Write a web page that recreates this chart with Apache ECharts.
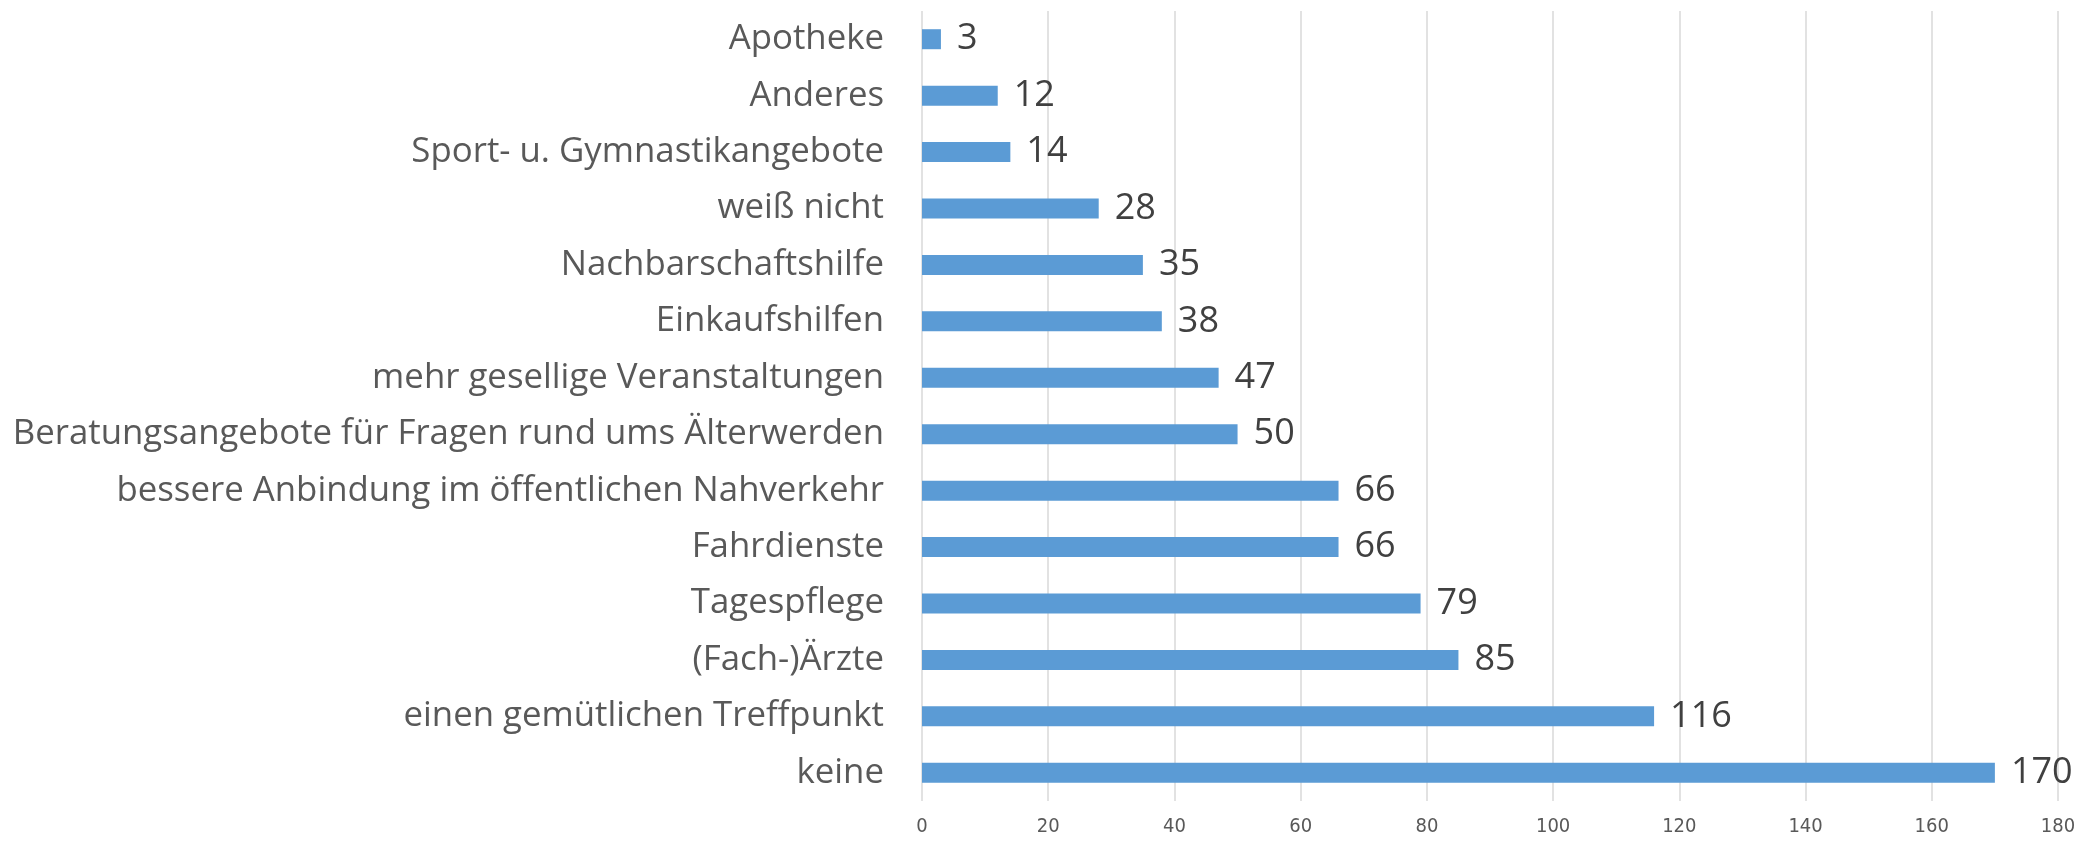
<!DOCTYPE html>
<html><head><meta charset="utf-8">
<script src="https://cdn.jsdelivr.net/npm/echarts@6/dist/echarts.min.js"></script>
<style>html,body{margin:0;padding:0;background:#fff}#c{width:2094px;height:842px}</style>
</head><body><div id="c"></div>
<script>
const categories = ["Apotheke","Anderes","Sport- u. Gymnastikangebote","weiß nicht","Nachbarschaftshilfe","Einkaufshilfen","mehr gesellige Veranstaltungen","Beratungsangebote für Fragen rund ums Älterwerden","bessere Anbindung im öffentlichen Nahverkehr","Fahrdienste","Tagespflege","(Fach-)Ärzte","einen gemütlichen Treffpunkt","keine"];
const values = [3,12,14,28,35,38,47,50,66,66,79,85,116,170];
const xTicks = {min:0, max:180, interval:20};

const chart = echarts.init(document.getElementById('c'));
chart.setOption({
  animation:false,
  grid:{left:922, right:36, top:11, bottom:41},
  xAxis:{type:'value', min:xTicks.min, max:xTicks.max, interval:xTicks.interval,
    axisLine:{show:false}, axisTick:{show:false},
    splitLine:{show:true, lineStyle:{color:'#d9d9d9', width:1.5}},
    axisLabel:{color:'#595959', fontSize:20, fontFamily:"'Liberation Sans Narrow','DejaVu Sans Condensed'", margin:16}},
  yAxis:{type:'category', data:categories, inverse:true,
    axisLine:{show:false}, axisTick:{show:false},
    axisLabel:{color:'#595959', fontSize:34.8, fontFamily:'Open Sans', margin:38}},
  series:[{type:'bar', data:values, barWidth:20,
    itemStyle:{color:'#5b9bd5'},
    label:{show:true, position:'right', distance:16, color:'#404040', fontSize:36, fontFamily:'Open Sans'}}]
});
</script></body></html>
